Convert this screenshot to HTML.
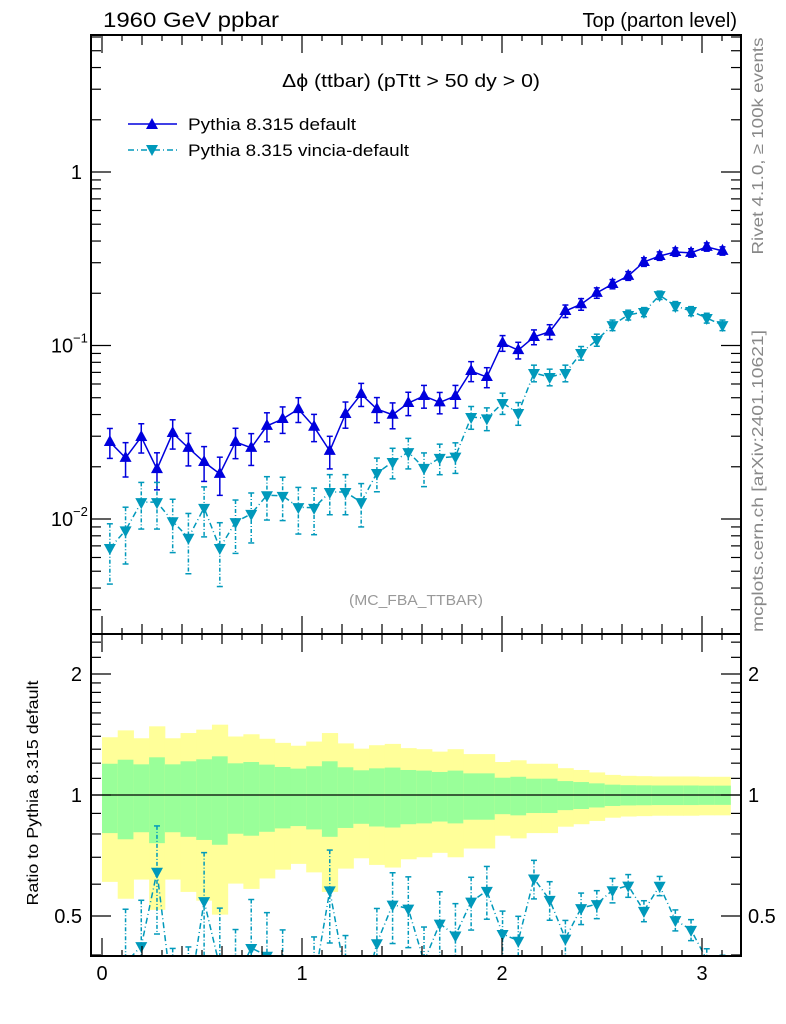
<!DOCTYPE html>
<html><head><meta charset="utf-8"><style>
html,body{margin:0;padding:0;background:#fff;width:786px;height:1024px;overflow:hidden;}
svg{display:block;font-family:"Liberation Sans",sans-serif;}
</style></head><body>
<svg id="c" width="786" height="1024" viewBox="0 0 786 1024" xmlns="http://www.w3.org/2000/svg">
<defs>
<clipPath id="clipMain"><rect x="91" y="35" width="650" height="599"/></clipPath>
<clipPath id="clipRatio"><rect x="91" y="634" width="650" height="322"/></clipPath>
</defs>
<g id="ratioBands" clip-path="url(#clipRatio)"></g>
<g id="mainG" clip-path="url(#clipMain)"></g>
<g id="ratioG" clip-path="url(#clipRatio)"></g>
<g id="axes"></g>
<text x="103" y="27" font-size="21" textLength="176" lengthAdjust="spacingAndGlyphs">1960 GeV ppbar</text>
<text x="737" y="27" font-size="20" text-anchor="end">Top (parton level)</text>
<text x="282" y="87" font-size="18" textLength="258" lengthAdjust="spacingAndGlyphs">Δϕ (ttbar) (pTtt &gt; 50 dy &gt; 0)</text>
<text x="349" y="605" font-size="15" fill="#999" textLength="134" lengthAdjust="spacingAndGlyphs">(MC_FBA_TTBAR)</text>
<g>
<g>
<line x1="128" y1="124" x2="177" y2="124" stroke="#0000dd" stroke-width="1.5"/>
<polygon points="152,118 158,129 146,129" fill="#0000dd"/>
<text x="188" y="130" font-size="17" textLength="168" lengthAdjust="spacingAndGlyphs">Pythia 8.315 default</text></g>
<g>
<line x1="128" y1="150" x2="177" y2="150" stroke="#0099bb" stroke-width="1.5" stroke-dasharray="6,3,1,3"/>
<polygon points="146,145 158,145 152,156" fill="#0099bb"/>
<text x="188" y="156" font-size="17" textLength="221" lengthAdjust="spacingAndGlyphs">Pythia 8.315 vincia-default</text></g>
</g>
<text transform="translate(763,146) rotate(-90)" font-size="16" fill="#888" text-anchor="middle" textLength="217" lengthAdjust="spacingAndGlyphs">Rivet 4.1.0, ≥ 100k events</text>
<text transform="translate(763,481) rotate(-90)" font-size="16" fill="#888" text-anchor="middle" textLength="302" lengthAdjust="spacingAndGlyphs">mcplots.cern.ch [arXiv:2401.10621]</text>
<text transform="translate(38,793) rotate(-90)" font-size="16" text-anchor="middle" textLength="225" lengthAdjust="spacingAndGlyphs">Ratio to Pythia 8.315 default</text>
</svg>
<script>
const blueVals=[0.0278,0.0225,0.0297,0.0194,0.0313,0.0257,0.0213,0.0182,0.0278,0.0257,0.0344,0.0377,0.043,0.034,0.0247,0.0403,0.0525,0.043,0.0399,0.0466,0.0512,0.047,0.0512,0.0713,0.0658,0.1033,0.094,0.112,0.12,0.158,0.173,0.201,0.226,0.252,0.303,0.328,0.346,0.342,0.37,0.351];
const blueErr=[0.196,0.224,0.192,0.241,0.192,0.213,0.227,0.248,0.199,0.208,0.19,0.174,0.163,0.179,0.213,0.172,0.152,0.165,0.17,0.154,0.15,0.141,0.15,0.132,0.132,0.104,0.11,0.098,0.098,0.083,0.077,0.069,0.061,0.058,0.057,0.056,0.056,0.056,0.055,0.055];
const cyanVals=[0.0068,0.0086,0.0125,0.0125,0.0097,0.0078,0.0116,0.0068,0.0096,0.0107,0.0137,0.0136,0.0117,0.0116,0.0143,0.0143,0.0125,0.0184,0.0213,0.0243,0.0197,0.0225,0.0229,0.0387,0.038,0.0466,0.0408,0.0694,0.0658,0.0694,0.0905,0.1076,0.131,0.15,0.156,0.195,0.169,0.158,0.144,0.131];
const cyanErr=[0.38,0.36,0.3,0.3,0.34,0.38,0.32,0.4,0.34,0.32,0.28,0.28,0.3,0.3,0.26,0.26,0.28,0.22,0.2,0.2,0.22,0.2,0.2,0.15,0.15,0.14,0.15,0.11,0.11,0.11,0.09,0.08,0.07,0.065,0.06,0.055,0.06,0.06,0.065,0.07];
const xTicks=[0,1,2,3];
const mainYTicks=[1,0.1,0.01];
const mainYLabels=["1","10","10"];
const mainYExp=["","−1","−2"];
const ratioYTicks=[0.5,1,2];
const ratioYLabels=["0.5","1","2"];

const NS="http://www.w3.org/2000/svg";
const nb=blueVals.length, xmax=Math.PI, bw=xmax/nb;
const X=v=>102+200*v;
const YM=v=>172-173.5*Math.log10(Math.max(v,0.002));
const YR=v=>795-402*Math.log10(Math.min(Math.max(v,0.3),3));
function mk(tag,attrs,parent){const e=document.createElementNS(NS,tag);for(const k in attrs)e.setAttribute(k,attrs[k]);parent.appendChild(e);return e;}
const mainG=document.getElementById('mainG'),ratioG=document.getElementById('ratioG'),bands=document.getElementById('ratioBands'),axes=document.getElementById('axes');

for(let i=0;i<nb;i++){
  const x0=X(i*bw),x1=X((i+1)*bw),e=blueErr[i];
  const y=mk('rect',{x:x0,y:YR(1+2*e),width:x1-x0+0.5,height:YR(1-2*e)-YR(1+2*e),fill:'#ffff99'},bands);
  
  
  const g=mk('rect',{x:x0,y:YR(1+e),width:x1-x0+0.5,height:YR(1-e)-YR(1+e),fill:'#99ff99'},bands);
  
  
}
mk('line',{x1:91,x2:741,y1:YR(1),y2:YR(1),stroke:'#000','stroke-width':1.3},bands);

function series(g,vals,errs,Y,color,dash,up,name){
  let pts=[];
  for(let i=0;i<vals.length;i++){pts.push(X((i+0.5)*bw)+','+Y(vals[i]));}
  const pl=mk('polyline',{points:pts.join(' '),fill:'none',stroke:color,'stroke-width':1.5},g);
  if(dash)pl.setAttribute('stroke-dasharray',dash);
  
  
  for(let i=0;i<vals.length;i++){
    const cx=X((i+0.5)*bw),v=vals[i],e=errs[i];
    const yt=Y(v*(1+e)),yb=Y(v*(1-e)),cy=Y(v);
    const eb=mk('g',{},g);
    
    
    const l=mk('line',{x1:cx,x2:cx,y1:yt,y2:yb,stroke:color,'stroke-width':1.5},eb);
    if(dash)l.setAttribute('stroke-dasharray','4,2,1,2');
    mk('line',{x1:cx-3,x2:cx+3,y1:yt,y2:yt,stroke:color,'stroke-width':1.5},eb);
    mk('line',{x1:cx-3,x2:cx+3,y1:yb,y2:yb,stroke:color,'stroke-width':1.5},eb);
    const p=up?`${cx},${cy-7} ${cx+6},${cy+4} ${cx-6},${cy+4}`:`${cx-6},${cy-4} ${cx+6},${cy-4} ${cx},${cy+7}`;
    const m=mk('polygon',{points:p,fill:color},g);
    
    
  }
}
series(mainG,blueVals,blueErr,YM,'#0000dd',null,true,'default');
series(mainG,cyanVals,cyanErr,YM,'#0099bb','6,3,1,3',false,'vincia');
const rv=cyanVals.map((v,i)=>v/blueVals[i]);
series(ratioG,rv,cyanErr,YR,'#0099bb','6,3,1,3',false,'vincia-ratio');

const fr1=mk('rect',{x:91,y:35,width:650,height:599,fill:'none',stroke:'#000','stroke-width':2},axes);


const fr2=mk('rect',{x:91,y:634,width:650,height:322,fill:'none',stroke:'#000','stroke-width':2},axes);


function tk(x1,y1,x2,y2){mk('line',{x1,y1,x2,y2,stroke:'#000','stroke-width':1.2},axes);}
for(let k=0;k<=32;k++){
  const v=k/10,x=X(v);if(x>741)break;
  const L=(k%10==0)?18:(k%2==0?10:6);
  for(const [yb,yt] of [[956,634],[634,35]]){tk(x,yb,x,yb-L);tk(x,yt,x,yt+L);}
}
for(let i=0;i<xTicks.length;i++){
  const t=mk('text',{x:X(xTicks[i]),y:980,'font-size':20,'text-anchor':'middle'},axes);
  t.textContent=xTicks[i];
  
  
}
for(let d=-3;d<=0;d++){for(let m=1;m<=9;m++){
  const v=m*Math.pow(10,d),y=YM(v);if(y<35||y>634)continue;
  const L=m==1?20:10;tk(91,y,91+L,y);tk(741,y,741-L,y);}}
for(let i=0;i<mainYTicks.length;i++){
  const y=YM(mainYTicks[i]);
  const t=mk('text',{x:mainYExp[i]?62:82,y:y+7,'font-size':20,'text-anchor':mainYExp[i]?'middle':'end'},axes);
  t.textContent=mainYLabels[i];
  
  
  if(mainYExp[i]){const s=mk('text',{x:73,y:y-3,'font-size':13},axes);s.textContent=mainYExp[i];}
}
for(let k=4;k<=25;k++){
  const v=k/10;const y=YR(v);if(y<634||y>956)continue;
  if(v>1&&k%2==1&&v>1.95)continue;
  const L=(ratioYTicks.indexOf(v)>=0)?20:10;tk(91,y,91+L,y);tk(741,y,741-L,y);}
for(let i=0;i<ratioYTicks.length;i++){
  const y=YR(ratioYTicks[i]);
  const t=mk('text',{x:82,y:y+7,'font-size':20,'text-anchor':'end'},axes);
  t.textContent=ratioYLabels[i];
  
  
  const t2=mk('text',{x:748,y:y+7,'font-size':20},axes);
  t2.textContent=ratioYLabels[i];
  
  
}
</script>
</body></html>
